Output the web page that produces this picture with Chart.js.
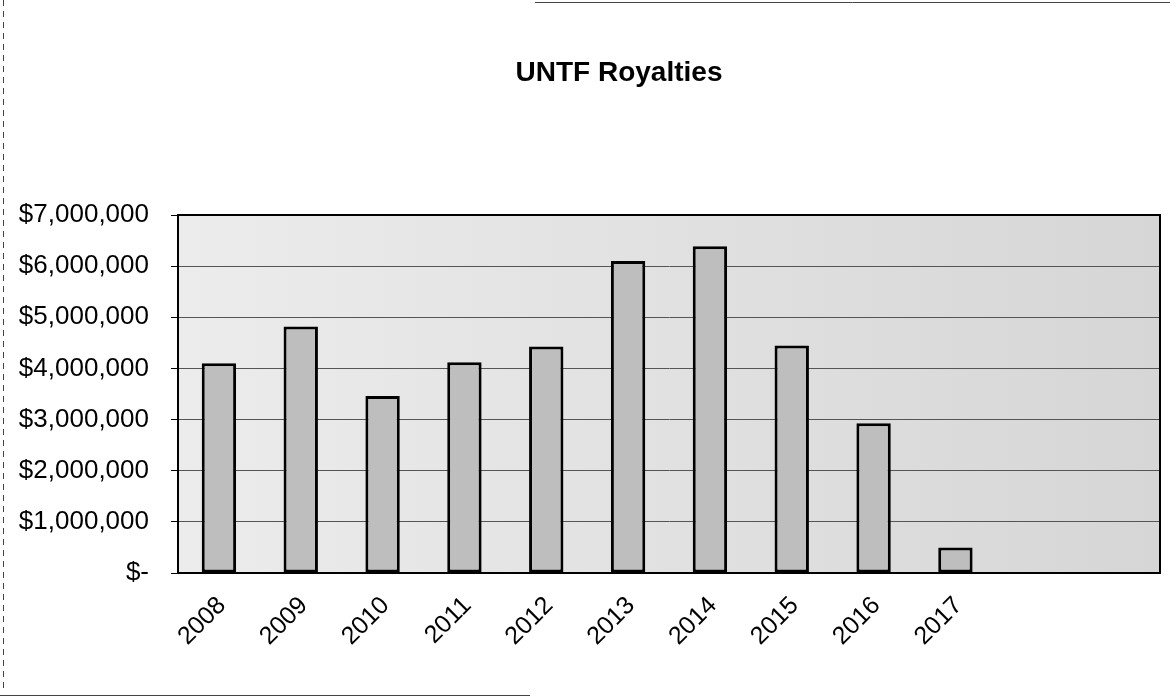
<!DOCTYPE html>
<html>
<head>
<meta charset="utf-8">
<script src="https://cdn.jsdelivr.net/npm/chart.js@4/dist/chart.umd.min.js"></script>
<style>
  html, body { margin: 0; padding: 0; background: #fff; }
  #wrap { width: 1170px; height: 700px; position: relative; }
</style>
</head>
<body>
<div id="wrap"><canvas id="royalties" width="1170" height="700"></canvas></div>
<script>
// years shown on the axis (last two slots are empty in the original sheet)
const years = ["2008", "2009", "2010", "2011", "2012", "2013", "2014", "2015", "2016", "2017", "", ""];
const royalties = [4100000, 4820000, 3460000, 4120000, 4430000, 6100000, 6390000, 4450000, 2930000, 500000, null, null];
const yTicks = [0, 1000000, 2000000, 3000000, 4000000, 5000000, 6000000, 7000000];
const chartTitle = "UNTF Royalties";

const fontFam = "'Liberation Sans', Arial, sans-serif";

// grey plot background, outer box lines and the title
const decor = {
  id: "decor",
  beforeDraw(chart) {
    const a = chart.chartArea, c = chart.ctx;
    c.save();
    const g = c.createLinearGradient(a.left, 0, a.right, 0);
    g.addColorStop(0, "#ececec");
    g.addColorStop(1, "#d6d6d6");
    c.fillStyle = g;
    c.fillRect(a.left, a.top, a.right - a.left, a.bottom - a.top);
    c.restore();
  },
  afterDraw(chart) {
    const a = chart.chartArea, c = chart.ctx;
    c.save();
    c.strokeStyle = "#000";
    c.lineWidth = 2;
    c.strokeRect(a.left, a.top, a.right - a.left, a.bottom - a.top);
    // page edges from the scan
    c.lineWidth = 1;
    c.strokeStyle = "#444";
    c.setLineDash([6, 5]);
    c.beginPath(); c.moveTo(3.5, 0); c.lineTo(3.5, 690); c.stroke();
    c.setLineDash([]);
    c.beginPath(); c.moveTo(535, 2.5); c.lineTo(1170, 2.5); c.stroke();
    c.beginPath(); c.moveTo(0, 695.5); c.lineTo(530, 695.5); c.stroke();
    // title
    c.fillStyle = "#000";
    c.font = "bold 28px " + fontFam;
    c.textAlign = "center";
    c.textBaseline = "middle";
    c.fillText(chartTitle, 619, 73);
    c.restore();
  }
};

function money(v) {
  if (v === 0) return "$-";
  return "$" + v.toLocaleString("en-US");
}

new Chart(document.getElementById("royalties"), {
  type: "bar",
  data: {
    labels: years,
    datasets: [{
      label: "Royalties",
      data: royalties,
      backgroundColor: "#bebebe",
      borderColor: "#000",
      borderWidth: 3,
      borderSkipped: false,
      barPercentage: 0.42,
      categoryPercentage: 1
    }]
  },
  options: {
    responsive: false,
    animation: false,
    layout: { padding: { top: 215, right: 10, left: 0, bottom: 0 } },
    plugins: { legend: { display: false }, title: { display: false }, tooltip: { enabled: false } },
    scales: {
      x: {
        grid: { display: false },
        border: { display: true, color: "#000", width: 2 },
        ticks: {
          color: "#000",
          font: { family: fontFam, size: 25 },
          maxRotation: 45, minRotation: 45,
          autoSkip: false,
          labelOffset: 3,
          padding: 10
        },
        afterFit(s) { s.height = 127; }
      },
      y: {
        min: 0, max: 7000000,
        afterBuildTicks(s) { s.ticks = yTicks.map(v => ({ value: v })); },
        grid: { color: "#555", lineWidth: 1, tickLength: 7, tickColor: "#000" },
        border: { display: true, color: "#000", width: 2 },
        ticks: {
          color: "#000",
          font: { family: fontFam, size: 26 },
          padding: 22,
          callback: v => money(v)
        },
        afterFit(s) { s.width = 178; }
      }
    }
  },
  plugins: [decor]
});
</script>
</body>
</html>
